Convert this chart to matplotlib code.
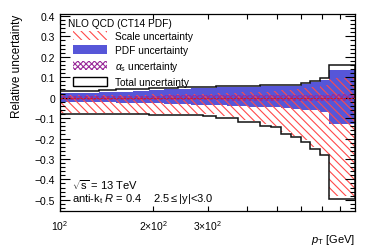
import matplotlib
matplotlib.use("Agg")
import matplotlib.pyplot as plt
from matplotlib.patches import Patch
from matplotlib.ticker import FixedLocator, MultipleLocator, FixedFormatter

plt.rcParams['font.family'] = ['Liberation Sans', 'DejaVu Sans']
plt.rcParams['mathtext.fontset'] = 'custom'
plt.rcParams['mathtext.rm'] = 'Liberation Sans'
plt.rcParams['mathtext.it'] = 'Liberation Sans:italic'
plt.rcParams['hatch.linewidth'] = 0.8

# bin edges in pT [GeV]
edges = [100, 116, 134, 152, 172, 194, 216, 240, 264, 290, 318, 346, 376,
         408, 442, 478, 516, 556, 598, 642, 688, 736, 894]

# relative uncertainties per bin
tot_up = [0.034, 0.035, 0.037, 0.040, 0.044, 0.046, 0.048, 0.050, 0.052, 0.054, 0.055,
          0.056, 0.057, 0.059, 0.061, 0.063, 0.063, 0.063, 0.073, 0.083, 0.098, 0.161]
tot_dn = [-0.078, -0.078, -0.079, -0.080, -0.082, -0.084, -0.085, -0.086, -0.086, -0.088, -0.098,
          -0.101, -0.117, -0.121, -0.137, -0.146, -0.176, -0.195, -0.215, -0.249, -0.283, -0.498]
pdf_up = [0.024, 0.025, 0.027, 0.030, 0.034, 0.037, 0.040, 0.043, 0.046, 0.048, 0.050,
          0.051, 0.052, 0.054, 0.056, 0.058, 0.058, 0.058, 0.068, 0.077, 0.088, 0.137]
pdf_dn = [-0.020, -0.021, -0.022, -0.024, -0.026, -0.028, -0.030, -0.032, -0.034, -0.036, -0.038,
          -0.040, -0.042, -0.044, -0.046, -0.048, -0.050, -0.055, -0.058, -0.062, -0.068, -0.127]
scale_up = [0.012, 0.012, 0.013, 0.014, 0.015, 0.016, 0.017, 0.018, 0.019, 0.020, 0.022,
            0.024, 0.026, 0.028, 0.030, 0.033, 0.036, 0.040, 0.045, 0.050, 0.060, 0.095]
scale_dn = [-0.074, -0.074, -0.075, -0.076, -0.078, -0.080, -0.080, -0.081, -0.081, -0.082, -0.092,
            -0.095, -0.110, -0.114, -0.130, -0.139, -0.169, -0.188, -0.207, -0.240, -0.275, -0.482]
as_up = [0.010, 0.010, 0.010, 0.010, 0.010, 0.010, 0.011, 0.011, 0.011, 0.011, 0.011,
         0.012, 0.012, 0.012, 0.012, 0.013, 0.013, 0.013, 0.014, 0.014, 0.015, 0.016]
as_dn = [-0.012, -0.012, -0.012, -0.012, -0.012, -0.012, -0.013, -0.013, -0.013, -0.013, -0.013,
         -0.014, -0.014, -0.014, -0.014, -0.015, -0.015, -0.015, -0.016, -0.016, -0.017, -0.018]

blue = '#5656d8'
red = '#ff4a4a'
purple = '#9a2a9a'

fig = plt.figure(figsize=(3.74, 2.53), dpi=100)
ax = fig.add_axes([0.160, 0.162, 0.789, 0.779])

ax.stairs(pdf_up, edges, baseline=pdf_dn, fill=True, color=blue, lw=0)
ax.stairs(scale_up, edges, baseline=scale_dn, fill=True, facecolor='none',
          edgecolor=red, hatch='\\\\\\\\', lw=0)
ax.stairs(as_up, edges, baseline=as_dn, fill=True, facecolor='none',
          edgecolor=purple, hatch='xxxxxx', lw=0)
ax.axhline(0, color='#d02020', lw=0.8, ls=(0, (2, 1)))
ax.stairs(tot_up, edges, color='#111111', lw=1.1)
ax.stairs(tot_dn, edges, color='#111111', lw=1.1)

ax.set_xscale('log')
ax.set_xlim(100, 894)
ax.set_ylim(-0.555, 0.41)

ax.xaxis.set_major_locator(FixedLocator([100]))
ax.xaxis.set_major_formatter(FixedFormatter([r'$10^{2}$']))
ax.xaxis.set_minor_locator(FixedLocator([200, 300, 400, 500, 600, 700, 800]))
ax.xaxis.set_minor_formatter(FixedFormatter([r'$2{\times}10^{2}$', r'$3{\times}10^{2}$',
                                             '', '', '', '', '']))
ax.yaxis.set_minor_locator(MultipleLocator(0.02))
ax.set_yticks([-0.5, -0.4, -0.3, -0.2, -0.1, 0, 0.1, 0.2, 0.3, 0.4])
ax.set_yticklabels(['\u22120.5', '\u22120.4', '\u22120.3', '\u22120.2', '\u22120.1',
                    '0', '0.1', '0.2', '0.3', '0.4'])

ax.tick_params(which='both', direction='in', top=True, right=True, labelsize=7.5)
ax.tick_params(which='major', length=7, width=0.8)
ax.tick_params(which='minor', length=3.5, width=0.8)
ax.tick_params(axis='x', which='both', pad=5)
for s in ax.spines.values():
    s.set_linewidth(0.9)

ax.set_ylabel('Relative uncertainty', loc='top', fontsize=8.5, labelpad=8)
ax.set_xlabel(r'$p_{\mathrm{T}}$ [GeV]', loc='right', fontsize=8, labelpad=0)

handles = [
    Patch(facecolor='white', edgecolor=red, hatch='\\\\\\\\', lw=0),
    Patch(facecolor=blue, edgecolor='none'),
    Patch(facecolor='none', edgecolor=purple, hatch='xxxxxx', lw=0),
    Patch(facecolor='white', edgecolor='k', lw=1.0),
]
labels = ['Scale uncertainty', 'PDF uncertainty', r'$\alpha_{\mathrm{s}}$ uncertainty',
          'Total uncertainty']
ax.text(0.027, 0.952, 'NLO QCD (CT14 PDF)', transform=ax.transAxes, fontsize=7.3,
        va='center', ha='left')
ax.legend(handles, labels, loc='upper left', bbox_to_anchor=(0.044, 0.912),
          frameon=False, fontsize=7.3, handlelength=3.4, handleheight=0.97,
          labelspacing=0.38, handletextpad=0.75, borderpad=0, borderaxespad=0)

ax.text(0.04, 0.137, r'$\sqrt{\mathrm{s}}$ = 13 TeV', transform=ax.transAxes,
        fontsize=8, va='center')
ax.text(0.04, 0.066, r'anti-k$_{\mathrm{t}}$ $R$ = 0.4    2.5$\leq$|y|<3.0',
        transform=ax.transAxes, fontsize=8, va='center')

fig.savefig('out.png', dpi=100)
